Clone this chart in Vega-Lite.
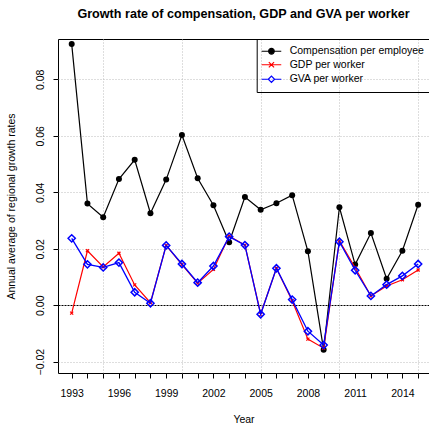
{
  "$schema": "https://vega.github.io/schema/vega-lite/v6.json",
  "width": 371,
  "height": 334,
  "autosize": {"type": "none"},
  "padding": {"left": 58, "top": 39, "right": 0, "bottom": 51},
  "background": "white",
  "title": {
    "text": "Growth rate of compensation, GDP and GVA per worker",
    "font": "Liberation Sans",
    "fontSize": 12.6,
    "fontWeight": "bold",
    "color": "black",
    "anchor": "middle",
    "offset": 18
  },
  "config": {
    "view": {"stroke": "black", "strokeWidth": 1},
    "axis": {
      "labelFont": "Liberation Sans",
      "labelFontSize": 10.5,
      "labelColor": "black",
      "titleFont": "Liberation Sans",
      "titleFontSize": 10.5,
      "titleFontWeight": "normal",
      "titleColor": "black",
      "tickColor": "black",
      "tickSize": 5,
      "domain": false,
      "grid": true,
      "gridDash": [1, 2],
      "gridColor": "#bdbdbd"
    }
  },
  "data": {
    "values": [
      {"year": 1993, "comp": 0.0925, "gdp": -0.0028, "gva": 0.0237},
      {"year": 1994, "comp": 0.0360, "gdp": 0.0193, "gva": 0.0145},
      {"year": 1995, "comp": 0.0312, "gdp": 0.0136, "gva": 0.0134},
      {"year": 1996, "comp": 0.0447, "gdp": 0.0184, "gva": 0.0151},
      {"year": 1997, "comp": 0.0515, "gdp": 0.0072, "gva": 0.0046},
      {"year": 1998, "comp": 0.0326, "gdp": 0.0009, "gva": 0.0007},
      {"year": 1999, "comp": 0.0445, "gdp": 0.0212, "gva": 0.0212},
      {"year": 2000, "comp": 0.0603, "gdp": 0.0144, "gva": 0.0146},
      {"year": 2001, "comp": 0.0450, "gdp": 0.0078, "gva": 0.0080},
      {"year": 2002, "comp": 0.0354, "gdp": 0.0127, "gva": 0.0139},
      {"year": 2003, "comp": 0.0223, "gdp": 0.0245, "gva": 0.0243},
      {"year": 2004, "comp": 0.0383, "gdp": 0.0213, "gva": 0.0213},
      {"year": 2005, "comp": 0.0338, "gdp": -0.0031, "gva": -0.0032},
      {"year": 2006, "comp": 0.0361, "gdp": 0.0131, "gva": 0.0131},
      {"year": 2007, "comp": 0.0390, "gdp": 0.0016, "gva": 0.0020},
      {"year": 2008, "comp": 0.0191, "gdp": -0.0120, "gva": -0.0092},
      {"year": 2009, "comp": -0.0158, "gdp": -0.0152, "gva": -0.0141},
      {"year": 2010, "comp": 0.0347, "gdp": 0.0228, "gva": 0.0225},
      {"year": 2011, "comp": 0.0144, "gdp": 0.0133, "gva": 0.0124},
      {"year": 2012, "comp": 0.0256, "gdp": 0.0033, "gva": 0.0033},
      {"year": 2013, "comp": 0.0094, "gdp": 0.0068, "gva": 0.0073},
      {"year": 2014, "comp": 0.0193, "gdp": 0.0090, "gva": 0.0104},
      {"year": 2015, "comp": 0.0356, "gdp": 0.0125, "gva": 0.0146}
    ]
  },
  "encoding": {
    "x": {
      "field": "year",
      "type": "quantitative",
      "title": "Year",
      "scale": {"domain": [1992.13, 2015.69], "nice": false, "zero": false},
      "axis": {
        "values": [1993, 1994, 1995, 1996, 1997, 1998, 1999, 2000, 2001, 2002, 2003, 2004, 2005, 2006, 2007, 2008, 2009, 2010, 2011, 2012, 2013, 2014, 2015],
        "format": "d",
        "labelExpr": "(datum.value - 1993) % 3 === 0 ? datum.label : ''",
        "labelOverlap": false,
        "labelFlush": false,
        "labelBound": false,
        "labelPadding": 10,
        "titlePadding": 16,
        "gridOpacity": {"condition": {"test": "datum.value % 5 === 0", "value": 1}, "value": 0}
      }
    }
  },
  "layer": [
    {
      "mark": {"type": "line", "strokeWidth": 1.2},
      "encoding": {
        "y": {
          "field": "comp",
          "type": "quantitative",
          "title": "Annual average of regional growth rates",
          "scale": {"domain": [-0.024, 0.0943], "nice": false, "zero": false},
          "axis": {
            "values": [-0.02, 0, 0.02, 0.04, 0.06, 0.08],
            "format": ".2f",
            "labelAngle": 270,
            "labelAlign": "center",
            "labelBaseline": "bottom",
            "labelPadding": 8,
            "titlePadding": 19,
            "gridColor": {"condition": {"test": "datum.value === 0", "value": "black"}, "value": "#bdbdbd"},
            "gridDash": {"condition": {"test": "datum.value === 0", "value": [2, 1]}, "value": [1, 2]}
          }
        },
        "color": {
          "datum": "Compensation per employee",
          "scale": {
            "domain": ["Compensation per employee", "GDP per worker", "GVA per worker"],
            "range": ["black", "red", "blue"]
          },
          "legend": {
            "title": null,
            "orient": "none",
            "legendX": 198.7,
            "legendY": 0,
            "direction": "vertical",
            "strokeColor": "black",
            "padding": 7,
            "labelFont": "Liberation Sans",
            "labelFontSize": 10.5,
            "labelColor": "black",
            "labelLimit": 300,
            "symbolSize": 49,
            "symbolStrokeWidth": 1.2,
            "labelOffset": 13,
            "symbolOffset": 2.5,
            "rowPadding": 2.5,
            "encode": {
              "symbols": {
                "update": {
                  "shape": {"signal": "datum.value === 'Compensation per employee' ? 'M-2.8,0L2.8,0M0.8,0A0.8,0.8,0,1,1,-0.8,0A0.8,0.8,0,1,1,0.8,0Z' : datum.value === 'GDP per worker' ? 'M-2.8,0L2.8,0M-0.75,-0.75L0.75,0.75M-0.75,0.75L0.75,-0.75' : 'M-2.8,0L-0.9,0M0.9,0L2.8,0M-0.9,0L0,-0.9L0.9,0L0,0.9Z'"},
                  "fill": {"signal": "datum.value === 'Compensation per employee' ? 'black' : 'transparent'"},
                  "stroke": {"signal": "datum.value === 'Compensation per employee' ? 'black' : datum.value === 'GDP per worker' ? 'red' : 'blue'"},
                  "strokeWidth": {"value": 1.2}
                }
              }
            }
          }
        }
      }
    },
    {
      "mark": {"type": "point", "shape": "circle", "filled": true, "color": "black", "size": 36, "opacity": 1},
      "encoding": {
        "y": {"field": "comp", "type": "quantitative", "title": "Annual average of regional growth rates"}
      }
    },
    {
      "mark": {"type": "line", "strokeWidth": 1.2},
      "encoding": {
        "y": {"field": "gdp", "type": "quantitative", "title": "Annual average of regional growth rates"},
        "color": {"datum": "GDP per worker"}
      }
    },
    {
      "mark": {"type": "point", "shape": "M-1,-1L1,1M-1,1L1,-1", "filled": false, "color": "red", "size": 9, "strokeWidth": 1.3, "opacity": 1},
      "encoding": {
        "y": {"field": "gdp", "type": "quantitative", "title": "Annual average of regional growth rates"}
      }
    },
    {
      "mark": {"type": "line", "strokeWidth": 1.3},
      "encoding": {
        "y": {"field": "gva", "type": "quantitative", "title": "Annual average of regional growth rates"},
        "color": {"datum": "GVA per worker"}
      }
    },
    {
      "mark": {"type": "point", "shape": "diamond", "filled": false, "color": "blue", "size": 52, "strokeWidth": 1.5, "opacity": 1},
      "encoding": {
        "y": {"field": "gva", "type": "quantitative", "title": "Annual average of regional growth rates"}
      }
    }
  ]
}
